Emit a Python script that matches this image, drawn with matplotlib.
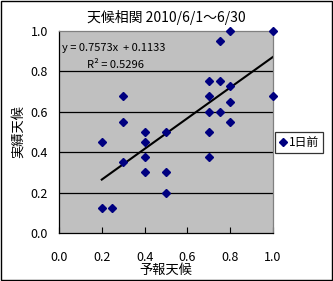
import matplotlib
matplotlib.use("Agg")
import matplotlib.pyplot as plt
from matplotlib.patches import Rectangle

plt.rcParams['font.family'] = ['Noto Sans CJK JP', 'DejaVu Sans']

forecast = [0.2, 0.2, 0.25, 0.3, 0.3, 0.3, 0.4, 0.4, 0.4, 0.4, 0.5, 0.5, 0.5,
            0.7, 0.8, 1.0, 0.75, 0.7, 0.75, 0.8, 0.7, 0.8, 1.0, 0.7, 0.75, 0.8, 0.7]
actual = [0.45, 0.125, 0.125, 0.35, 0.55, 0.675, 0.5, 0.45, 0.375, 0.3, 0.5, 0.3, 0.2,
          0.375, 1.0, 1.0, 0.95, 0.75, 0.75, 0.725, 0.675, 0.65, 0.675, 0.6, 0.6, 0.55, 0.5]
slope = 0.7573
intercept = 0.1133
r2 = 0.5296
ticks = [0.0, 0.2, 0.4, 0.6, 0.8, 1.0]

fig = plt.figure(figsize=(3.33, 2.81), dpi=100)
fig.patches.append(Rectangle((0.003, 0.004), 0.994, 0.992, transform=fig.transFigure,
                             fill=False, edgecolor='black', linewidth=1))
ax = fig.add_axes([0.177, 0.170, 0.643, 0.721])
ax.set_facecolor('#C0C0C0')

for t in ticks[1:-1]:
    ax.axhline(t, color='black', linewidth=0.9, zorder=1)

ax.plot(forecast, actual, linestyle='none', marker='D', markersize=4.5,
        color='#000080', label='1日前', zorder=3, clip_on=False)

xs = [min(forecast), max(forecast)]
ax.plot(xs, [slope * x + intercept for x in xs], color='black', linewidth=1.5, zorder=2)

ax.set_xlim(0, 1.0)
ax.set_ylim(0, 1.0)
ax.set_xticks(ticks)
ax.set_yticks(ticks)
ax.set_xticklabels([f'{t:.1f}' for t in ticks])
ax.set_yticklabels([f'{t:.1f}' for t in ticks])
ax.tick_params(axis='x', direction='in', length=4, pad=13, labelsize=9)
ax.tick_params(axis='y', direction='in', length=0, pad=8, labelsize=9)
for s in ax.spines.values():
    s.set_linewidth(0.9)
ax.spines['right'].set_color('#808080')
ax.spines['top'].set_color('#808080')

ax.set_title('天候相関 2010/6/1～6/30', fontsize=10, pad=6)
ax.set_xlabel('予報天候', fontsize=9.5, labelpad=0)
ax.set_ylabel('実績天候', fontsize=9.5, labelpad=4)

ax.text(0.015, 0.915, f'y = {slope:.4f}x  + {intercept:.4f}', transform=ax.transAxes,
        fontsize=8, va='center')
ax.text(0.13, 0.83, f'R² = {r2:.4f}', transform=ax.transAxes, fontsize=8, va='center')

leg = fig.legend(loc='center left', bbox_to_anchor=(0.826, 0.493), fontsize=8.5,
                 frameon=True, fancybox=False, edgecolor='black', handlelength=0.6,
                 handletextpad=0.2, borderpad=0.35, borderaxespad=0)
leg.get_frame().set_linewidth(0.9)

fig.savefig('out.png', dpi=100)
